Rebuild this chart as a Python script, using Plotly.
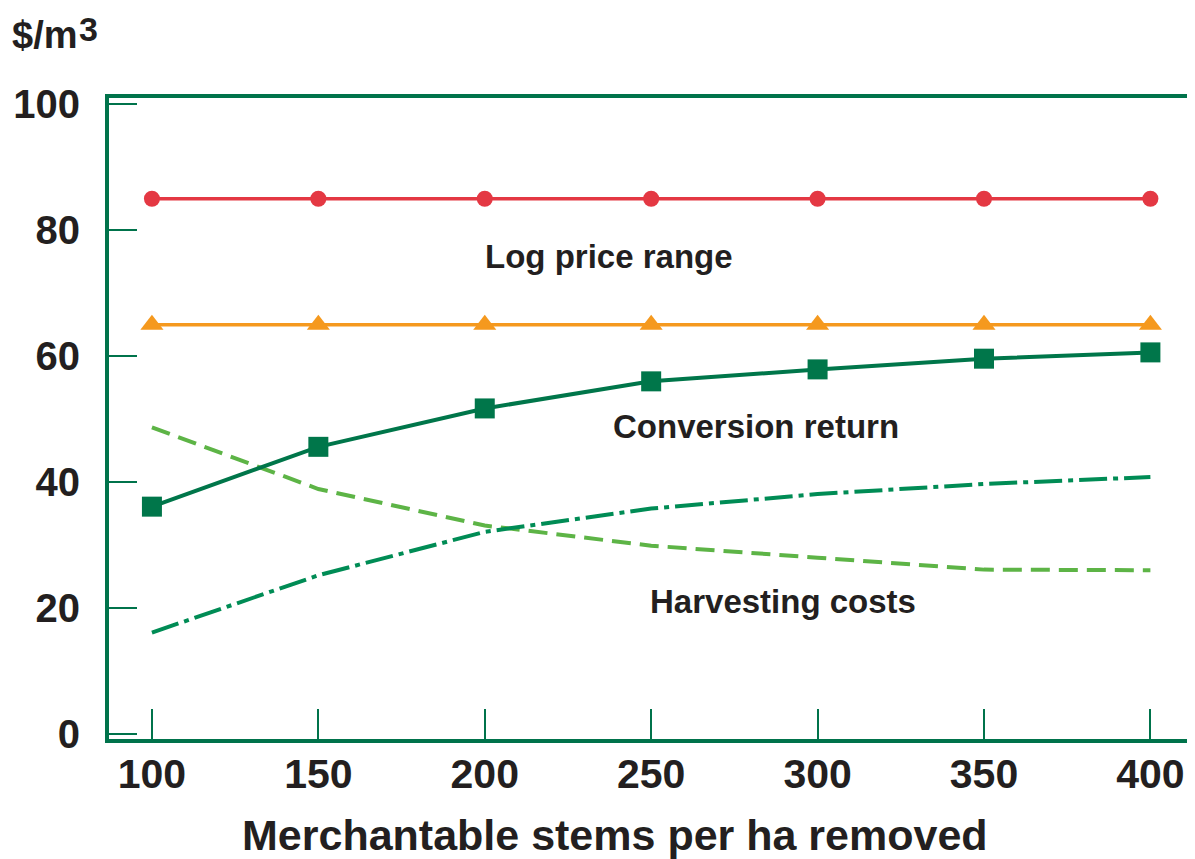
import plotly.graph_objects as go

stems = [100, 150, 200, 250, 300, 350, 400]
log_price_high = [85, 85, 85, 85, 85, 85, 85]
log_price_low = [65, 65, 65, 65, 65, 65, 65]
conversion_return = [36.1, 45.6, 51.7, 56.0, 57.9, 59.6, 60.6]
harvest_cost_a = [48.7, 38.9, 33.1, 29.9, 28.0, 26.1, 26.0]
harvest_cost_b = [16.1, 25.2, 32.1, 35.8, 38.1, 39.7, 40.8]

x_ticks = [100, 150, 200, 250, 300, 350, 400]
y_ticks = [0, 20, 40, 60, 80, 100]

FRAME = "#00734B"
TEXT = "#231F20"
FONT = "Liberation Sans, Arial, sans-serif"

fig = go.Figure()
fig.add_trace(go.Scatter(x=stems, y=log_price_high, mode="lines+markers",
                         line=dict(color="#E43843", width=3.5),
                         marker=dict(symbol="circle", size=16, color="#E43843")))
fig.add_trace(go.Scatter(x=stems, y=log_price_low, mode="lines+markers",
                         line=dict(color="#F5991E", width=3.5),
                         marker=dict(symbol="triangle-up", size=20, color="#F5991E")))
fig.add_trace(go.Scatter(x=stems, y=harvest_cost_a, mode="lines",
                         line=dict(color="#5DB446", width=4, dash="19px,9px")))
fig.add_trace(go.Scatter(x=stems, y=harvest_cost_b, mode="lines",
                         line=dict(color="#008C55", width=4, dash="28px,6px,5px,6px")))
fig.add_trace(go.Scatter(x=stems, y=conversion_return, mode="lines+markers",
                         line=dict(color="#00764A", width=4),
                         marker=dict(symbol="square", size=20, color="#00764A")))

labels = [
    ("Log price range", 237.3, 75.9),
    ("Conversion return", 281.5, 48.9),
    ("Harvesting costs", 289.6, 21.1),
]
for txt, x, y in labels:
    fig.add_annotation(x=x, y=y, text=f"<b>{txt}</b>", showarrow=False,
                       font=dict(family=FONT, size=33, color=TEXT))

# y-axis unit label
fig.add_annotation(xref="paper", yref="paper", x=-0.0912, y=1.0, yshift=63,
                   xanchor="left", yanchor="middle", showarrow=False,
                   text="<b>$/m</b>", font=dict(family=FONT, size=38, color=TEXT))
fig.add_annotation(xref="paper", yref="paper", x=-0.0295, y=1.0, yshift=69,
                   xanchor="left", yanchor="middle", showarrow=False,
                   text="<b>3</b>", font=dict(family=FONT, size=34, color=TEXT))

# x-axis title
fig.add_annotation(xref="paper", yref="paper", x=0.466, y=0.0, yshift=-96,
                   xanchor="center", yanchor="middle", showarrow=False,
                   text="<b>Merchantable stems per ha removed</b>",
                   font=dict(family=FONT, size=43, color=TEXT))

fig.update_layout(
    width=1187, height=851,
    margin=dict(l=101, r=0, t=90, b=120),
    paper_bgcolor="white", plot_bgcolor="white",
    showlegend=False,
    font=dict(family=FONT, color=TEXT),
    xaxis=dict(range=[87.1, 413.4], tickvals=x_ticks,
               ticktext=[f"<b>{v}</b>" for v in x_ticks],
               ticks="inside", ticklen=30, tickwidth=1.5, tickcolor=FRAME,
               showline=True, linecolor=FRAME, linewidth=4, mirror=True,
               showgrid=False, zeroline=False, ticklabelstandoff=-4,
               tickfont=dict(family=FONT, size=41, color=TEXT)),
    yaxis=dict(range=[-0.8, 101], tickvals=y_ticks,
               ticktext=[f"<b>{v}</b>" for v in y_ticks],
               ticks="inside", ticklen=28, tickwidth=1.5, tickcolor=FRAME,
               showline=True, linecolor=FRAME, linewidth=4, mirror=False,
               showgrid=False, zeroline=False, ticklabelstandoff=17,
               tickfont=dict(family=FONT, size=40, color=TEXT)),
)

fig.write_html("out.html")
